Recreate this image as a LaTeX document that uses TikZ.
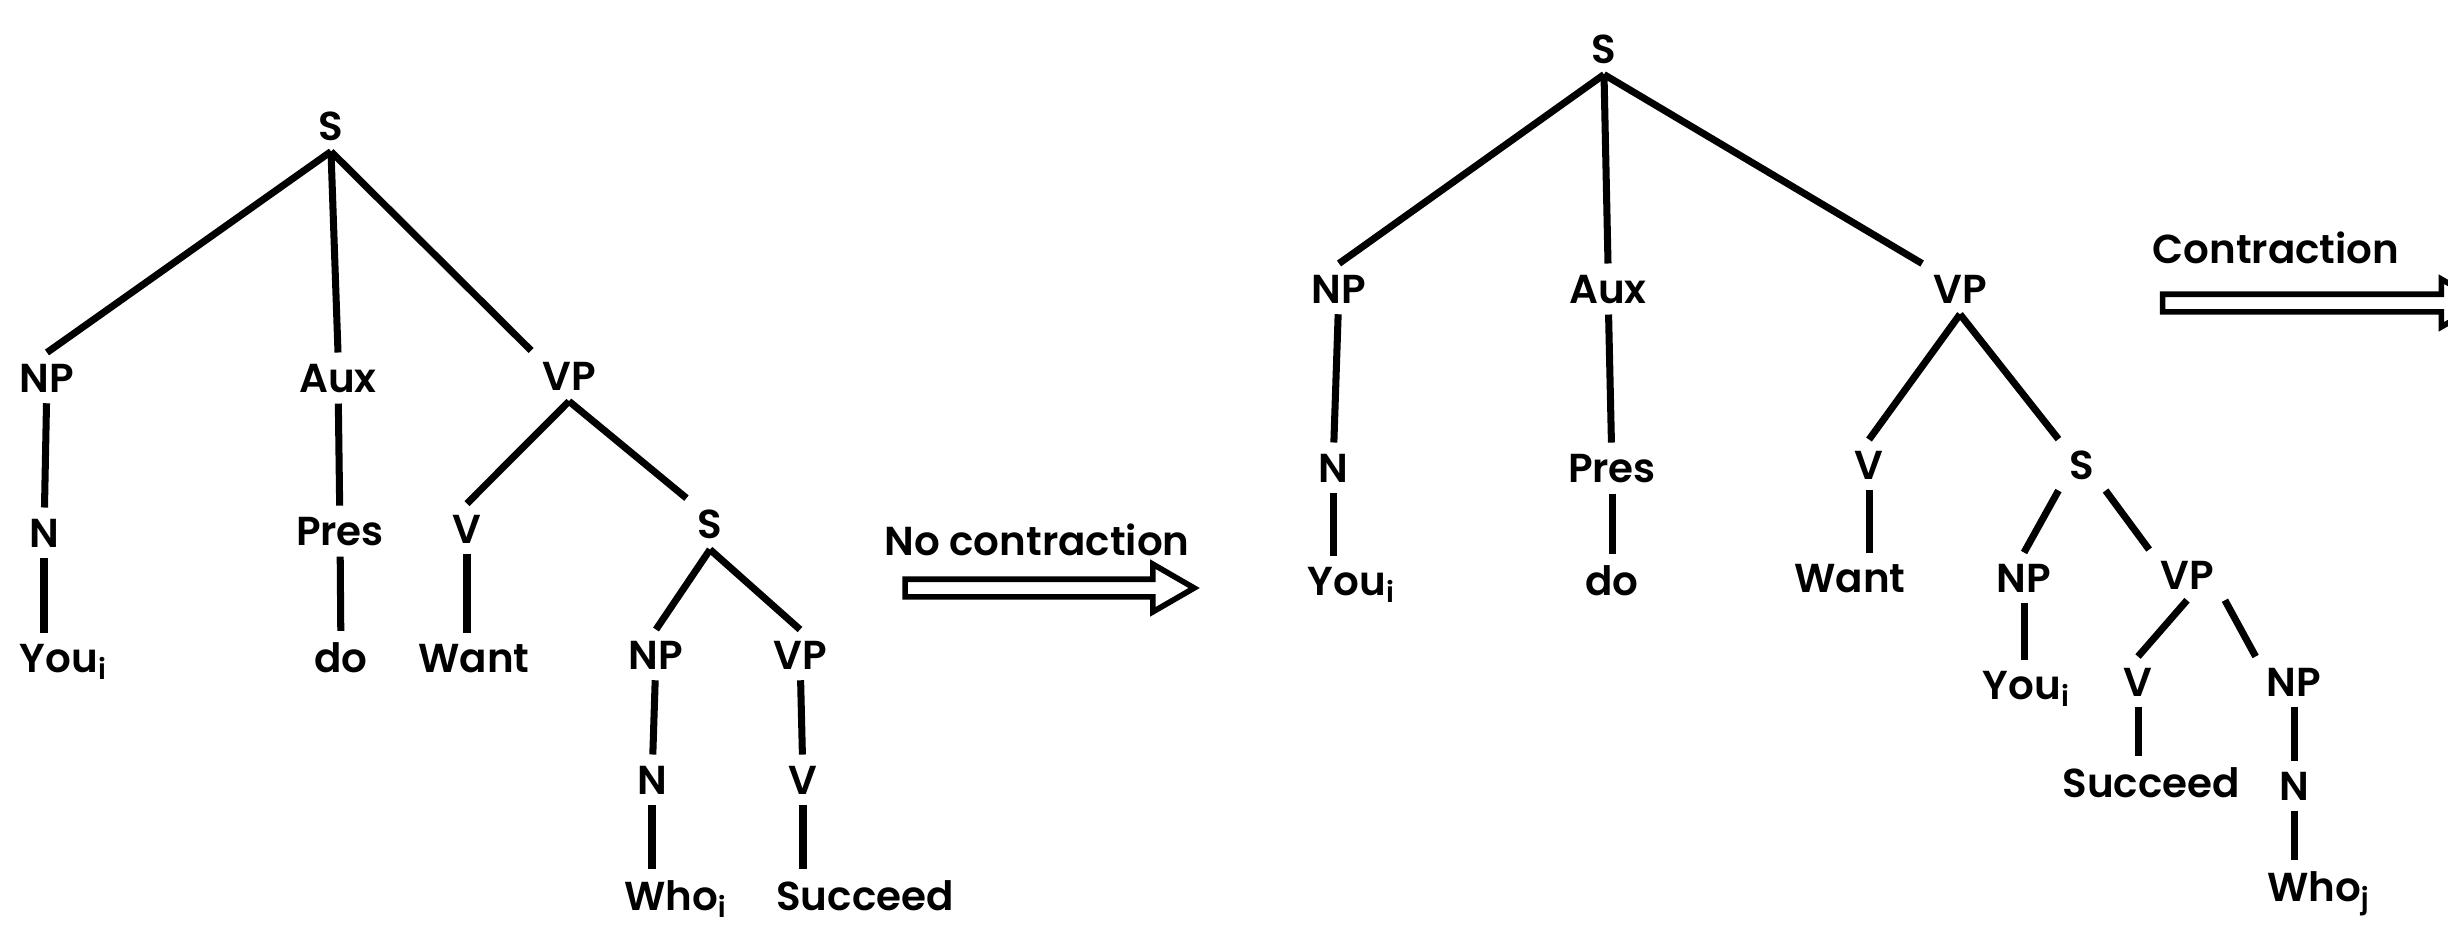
\documentclass[tikz,border=0pt]{standalone}
\usepackage{fontspec}
\setmainfont{Poppins}[UprightFont=* SemiBold]
\usepackage{tikz}
\usetikzlibrary{positioning,shapes.arrows}

\begin{document}
\begin{tikzpicture}[
    cat/.style={anchor=base, inner sep=3pt, font=\fontsize{11.5}{14}\selectfont},
    branch/.style={line width=2pt},
    transf/.style={single arrow, draw, line width=1.6pt, inner sep=0.06cm,
      single arrow head extend=0.15cm, single arrow tip angle=60},
  ]
    \useasboundingbox (0,0) rectangle (24.48,-9.32);

    % left tree
    \node [cat] (lS) at (3.31,-1.40) {S};
    \node [cat] (lNP) at (0.47,-3.92) {NP};
    \node [cat] (lAux) at (3.38,-3.92) {Aux};
    \node [cat] (lVP) at (5.69,-3.90) {VP};
    \node [cat] (lN) at (0.44,-5.47) {N};
    \node [cat] (lPres) at (3.40,-5.45) {Pres};
    \node [cat] (lV) at (4.67,-5.43) {V};
    \node [cat] (lS2) at (7.10,-5.38) {S};
    \node [cat] (lYou) at (0.59,-6.72) {You\rlap{\textsubscript{i}}};
    \node [cat] (ldo) at (3.41,-6.72) {do};
    \node [cat] (lWant) at (4.74,-6.72) {Want};
    \node [cat] (lNP2) at (6.56,-6.69) {NP};
    \node [cat] (lVP2) at (8.00,-6.69) {VP};
    \node [cat] (lN2) at (6.52,-7.94) {N};
    \node [cat] (lV2) at (8.03,-7.94) {V};
    \node [cat] (lWho) at (6.71,-9.10) {Who\rlap{\textsubscript{i}}};
    \node [cat] (lSucceed) at (8.65,-9.10) {Succeed};

    \draw [branch] (lS.south) -- (lNP.north);
    \draw [branch] (lS.south) -- (lAux.north);
    \draw [branch] (lS.south) -- (lVP.north west);
    \draw [branch] (lNP) -- (lN);
    \draw [branch] (lN) -- (lN |- lYou.north);
    \draw [branch] (lAux) -- (lPres);
    \draw [branch] (lPres) -- (ldo);
    \draw [branch] (lVP.south) -- (lV.north);
    \draw [branch] (lVP.south) -- (lS2.north west);
    \draw [branch] (lV) -- (lV |- lWant.north);
    \draw [branch] (lS2.south) -- (lNP2.north);
    \draw [branch] (lS2.south) -- (lVP2.north);
    \draw [branch] (lNP2) -- (lN2);
    \draw [branch] (lN2) -- (lN2 |- lWho.north);
    \draw [branch] (lVP2) -- (lV2);
    \draw [branch] (lV2) -- (lV2 |- lSucceed.north);

    \node [cat] (nocontr) at (10.37,-5.55) {No contraction};
    \node [transf, minimum height=2.89cm] (ncarrow) at (10.42,-5.88) {};

    % right tree
    \node [cat] (rS) at (16.04,-0.63) {S};
    \node [cat] (rNP) at (13.39,-3.03) {NP};
    \node [cat] (rAux) at (16.08,-3.03) {Aux};
    \node [cat] (rVP) at (19.60,-3.03) {VP};
    \node [cat] (rN) at (13.33,-4.82) {N};
    \node [cat] (rPres) at (16.12,-4.82) {Pres};
    \node [cat] (rV) at (18.69,-4.79) {V};
    \node [cat] (rS2) at (20.82,-4.79) {S};
    \node [cat] (rYou) at (13.47,-5.95) {You\rlap{\textsubscript{i}}};
    \node [cat] (rdo) at (16.12,-5.95) {do};
    \node [cat] (rWant) at (18.50,-5.92) {Want};
    \node [cat] (rNP3) at (20.24,-5.92) {NP};
    \node [cat] (rVP3) at (21.87,-5.89) {VP};
    \node [cat] (rYou2) at (20.22,-6.99) {You\rlap{\textsubscript{i}}};
    \node [cat] (rV3) at (21.38,-6.96) {V};
    \node [cat] (rNP4) at (22.94,-6.96) {NP};
    \node [cat] (rSucceed) at (21.51,-7.97) {Succeed};
    \node [cat] (rN4) at (22.94,-8.00) {N};
    \node [cat] (rWho) at (23.14,-9.01) {Who\rlap{\textsubscript{j}}};

    \draw [branch] (rS.south) -- (rNP.north);
    \draw [branch] (rS.south) -- (rAux.north);
    \draw [branch] (rS.south) -- (rVP.north west);
    \draw [branch] (rNP) -- (rN);
    \draw [branch] (rN) -- (rN |- rYou.north);
    \draw [branch] (rAux) -- (rPres);
    \draw [branch] (rPres) -- (rdo);
    \draw [branch] (rVP.south) -- (rV.north);
    \draw [branch] (rVP.south) -- (rS2.north west);
    \draw [branch] (rV) -- (rV |- rWant.north);
    \draw [branch] (rS2.south west) -- (rNP3.north);
    \draw [branch] (rS2.south east) -- (rVP3.north west);
    \draw [branch] (rNP3) -- (rNP3 |- rYou2.north);
    \draw [branch] (rVP3.south) -- (rV3.north);
    \draw [branch] (rVP3.south east) -- (rNP4.north west);
    \draw [branch] (rV3) -- (rV3 |- rSucceed.north);
    \draw [branch] (rNP4) -- (rN4);
    \draw [branch] (rN4) -- (rN4 |- rWho.north);

    \node [cat] (contr) at (22.76,-2.63) {Contraction};
    \node [transf, minimum height=3.2cm] (carrow) at (23.15,-3.03) {};
\end{tikzpicture}
\end{document}
